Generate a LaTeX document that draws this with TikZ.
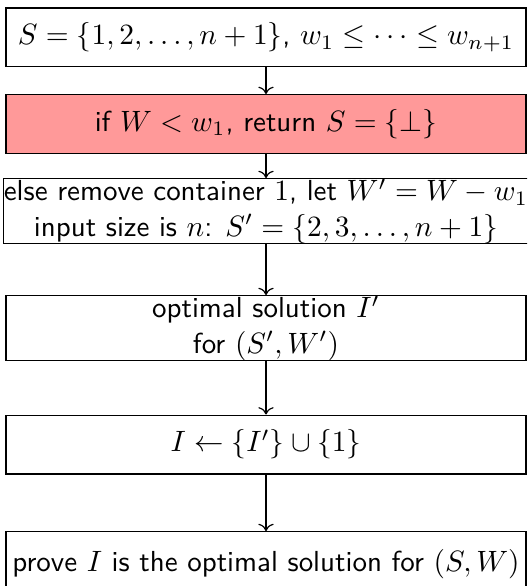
\documentclass[tikz,border=0pt]{standalone}
\usetikzlibrary{arrows.meta}
\begin{document}
\begin{tikzpicture}[x=0.34pt,y=-0.34pt,
  flowbox/.style={draw, minimum width=176.8pt, inner sep=0pt, minimum height=20pt,
    align=center, font=\sffamily\fontsize{9.85pt}{12pt}\selectfont},
  redbox/.style={flowbox, fill=red!40},
  conn/.style={->}]
\clip (0,0) rectangle (527,586);
\useasboundingbox (0,0) rectangle (527,586);
\node[flowbox] (n1) at (266,37.5) {$S=\{1,2,\ldots,n+1\}$, $w_1\leq\cdots\leq w_{n+1}$};
\node[redbox] (n2) at (266,124) {if $W<w_1$, return $S=\{\bot\}$};
\node[flowbox] (n3) at (266,211) {else remove container $1$, let $W'=W-w_1$\\ input size is $n$: $S'=\{2,3,\ldots,n+1\}$};
\node[flowbox] (n4) at (266,328) {optimal solution $I'$\\ for $(S',W')$};
\node[flowbox] (n5) at (266,444.5) {$I\leftarrow\{I'\}\cup\{1\}$};
\node[flowbox, minimum height=22pt] (n6) at (266,564) {prove $I$ is the optimal solution for $(S,W)$};
\draw[conn] (n1) -- (n2);
\draw[conn] (n2) -- (n3);
\draw[conn] (n3) -- (n4);
\draw[conn] (n4) -- (n5);
\draw[conn] (n5) -- (n6);
\end{tikzpicture}
\end{document}
